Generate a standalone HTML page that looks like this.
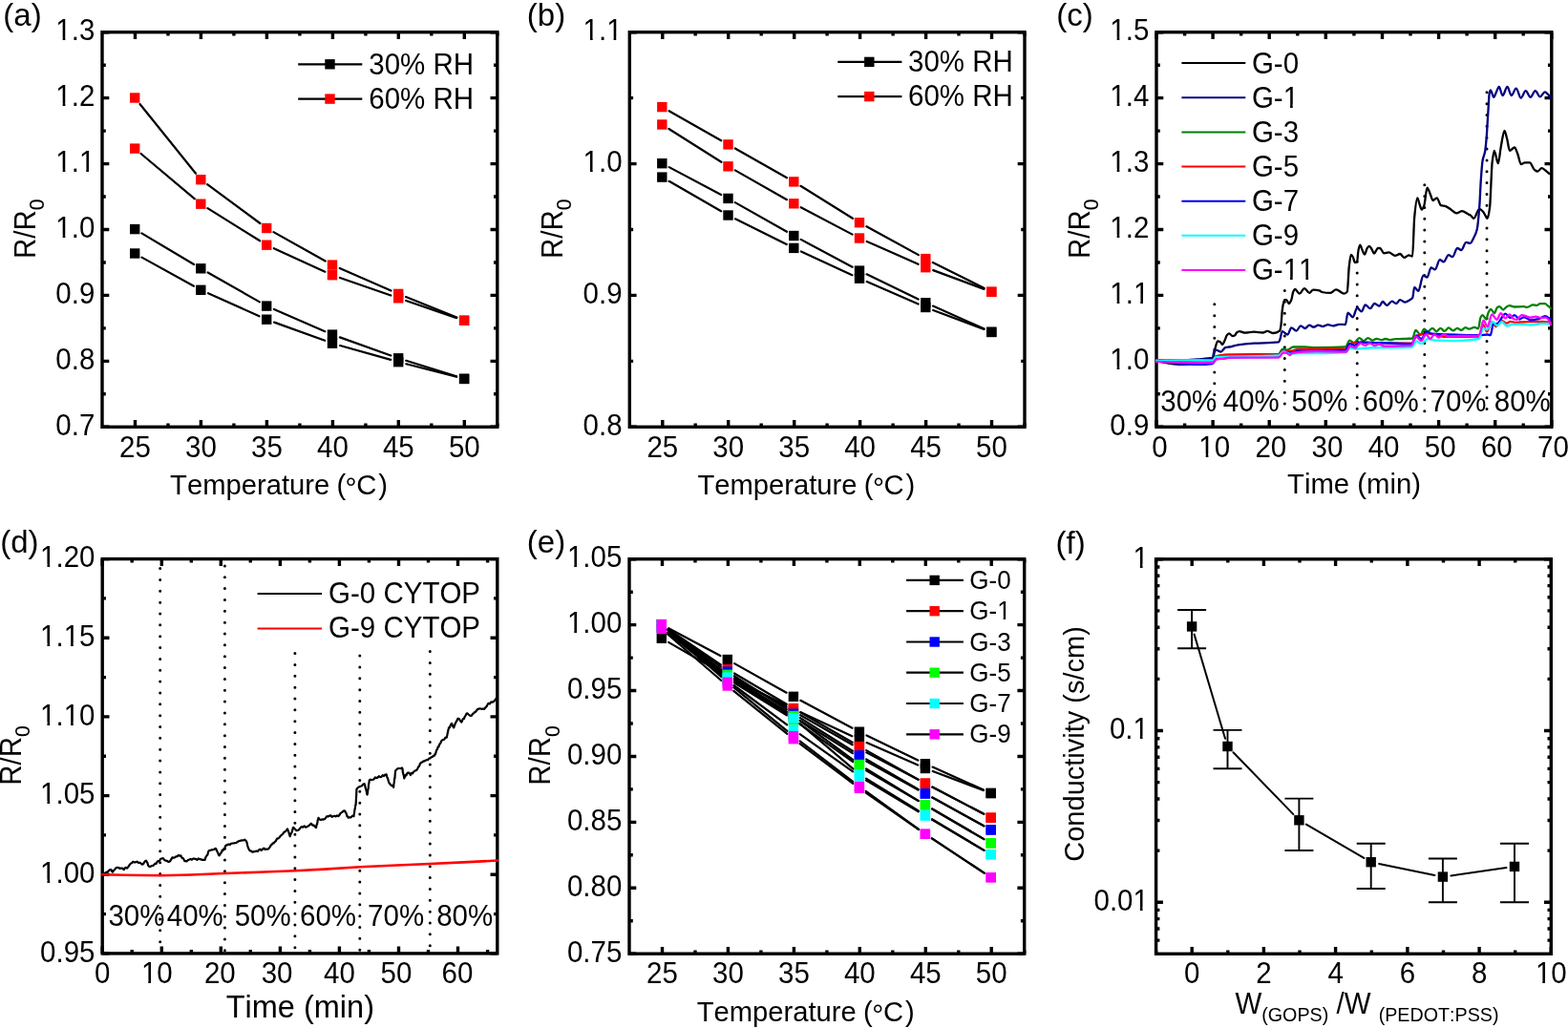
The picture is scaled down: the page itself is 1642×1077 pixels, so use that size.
<!DOCTYPE html><html><head><meta charset="utf-8"><style>html,body{margin:0;padding:0;background:#fff;overflow:hidden}svg{display:block}</style></head><body><svg width="1642" height="1077" viewBox="0 0 1642 1077" font-family="'Liberation Sans', Arial, sans-serif" font-size="30.7" fill="#000" style="font-kerning:none">
<rect width="1642" height="1077" fill="#fff"/>
<text x="3.3" y="26.6" font-size="33">(a)</text>
<text x="551.8" y="26.6" font-size="33">(b)</text>
<text x="1106.3" y="26.6" font-size="33">(c)</text>
<text x="0.2" y="578.5" font-size="33">(d)</text>
<text x="551.8" y="578.5" font-size="33">(e)</text>
<text x="1105.6" y="579.6" font-size="33">(f)</text>
<path d="M141.5 447.3v-7.3M141.5 33.7v7.3M210.4 447.3v-7.3M210.4 33.7v7.3M279.4 447.3v-7.3M279.4 33.7v7.3M348.4 447.3v-7.3M348.4 33.7v7.3M417.3 447.3v-7.3M417.3 33.7v7.3M486.3 447.3v-7.3M486.3 33.7v7.3M176 447.3v-3.8M176 33.7v3.8M244.9 447.3v-3.8M244.9 33.7v3.8M313.9 447.3v-3.8M313.9 33.7v3.8M382.9 447.3v-3.8M382.9 33.7v3.8M451.8 447.3v-3.8M451.8 33.7v3.8M520.8 447.3v-3.8M520.8 33.7v3.8M107 447.3h7.3M520.8 447.3h-7.3M107 378.4h7.3M520.8 378.4h-7.3M107 309.4h7.3M520.8 309.4h-7.3M107 240.5h7.3M520.8 240.5h-7.3M107 171.6h7.3M520.8 171.6h-7.3M107 102.6h7.3M520.8 102.6h-7.3M107 33.7h7.3M520.8 33.7h-7.3M107 412.8h3.8M520.8 412.8h-3.8M107 343.9h3.8M520.8 343.9h-3.8M107 275h3.8M520.8 275h-3.8M107 206h3.8M520.8 206h-3.8M107 137.1h3.8M520.8 137.1h-3.8M107 68.2h3.8M520.8 68.2h-3.8" stroke="#000" stroke-width="3.4" fill="none"/>
<rect x="107" y="33.7" width="413.8" height="413.6" fill="none" stroke="#000" stroke-width="3.4"/>
<text transform="translate(141.5 478.6) scale(0.9609 1)" text-anchor="middle">25</text>
<text transform="translate(210.4 478.6) scale(0.9609 1)" text-anchor="middle">30</text>
<text transform="translate(279.4 478.6) scale(0.9609 1)" text-anchor="middle">35</text>
<text transform="translate(348.4 478.6) scale(0.9609 1)" text-anchor="middle">40</text>
<text transform="translate(417.3 478.6) scale(0.9609 1)" text-anchor="middle">45</text>
<text transform="translate(486.3 478.6) scale(0.9609 1)" text-anchor="middle">50</text>
<text transform="translate(99.3 456) scale(0.9609 1)" text-anchor="end">0.7</text>
<text transform="translate(99.3 387.1) scale(0.9609 1)" text-anchor="end">0.8</text>
<text transform="translate(99.3 318.1) scale(0.9609 1)" text-anchor="end">0.9</text>
<text transform="translate(99.3 249.2) scale(0.9609 1)" text-anchor="end">1.0</text>
<text transform="translate(99.3 180.3) scale(0.9609 1)" text-anchor="end">1.1</text>
<text transform="translate(99.3 111.3) scale(0.9609 1)" text-anchor="end">1.2</text>
<text transform="translate(99.3 42.4) scale(0.9609 1)" text-anchor="end">1.3</text>
<path d="M148.4 244.4L203.1 277M217.6 285.5L271.9 316.4M286.9 324L340.3 347.2M355.9 353.4L409.3 372.5M425.2 377.8L478.1 394.4" stroke="#000" stroke-width="2.2" fill="none" stroke-linecap="round"/><path d="M148.5 269.6L203 299.7M218 307.2L271.5 331.3M287.1 337.6L340.1 356.8M356.1 362L409.1 376.9M425.3 381.3L478 394.8" stroke="#000" stroke-width="2.2" fill="none" stroke-linecap="round"/><path d="M146.5 109L205 181.7M217.1 193.2L272.4 234M286.5 243.1L340.7 273.5M355.7 281L409.5 304.5M425 311.1L478.3 332.6" stroke="#000" stroke-width="2.2" fill="none" stroke-linecap="round"/><path d="M147.6 161L203.9 208.3M217.4 218.1L272.1 252.3M286.8 260.2L340.4 284.7M355.9 291L409.3 309.5M425.2 315L478.1 333.1" stroke="#000" stroke-width="2.2" fill="none" stroke-linecap="round"/>
<rect x="136" y="234.9" width="10.4" height="10.4" fill="#000"/><rect x="205.1" y="276.1" width="10.4" height="10.4" fill="#000"/><rect x="274" y="315.4" width="10.4" height="10.4" fill="#000"/><rect x="342.8" y="345.4" width="10.4" height="10.4" fill="#000"/><rect x="412" y="370.1" width="10.4" height="10.4" fill="#000"/><rect x="480.9" y="391.7" width="10.4" height="10.4" fill="#000"/><rect x="136" y="260.3" width="10.4" height="10.4" fill="#000"/><rect x="205.1" y="298.6" width="10.4" height="10.4" fill="#000"/><rect x="274" y="329.5" width="10.4" height="10.4" fill="#000"/><rect x="342.8" y="354.5" width="10.4" height="10.4" fill="#000"/><rect x="412" y="374" width="10.4" height="10.4" fill="#000"/><rect x="480.9" y="391.7" width="10.4" height="10.4" fill="#000"/><rect x="136" y="97.3" width="10.4" height="10.4" fill="#f00"/><rect x="205.1" y="183" width="10.4" height="10.4" fill="#f00"/><rect x="274" y="233.8" width="10.4" height="10.4" fill="#f00"/><rect x="342.8" y="272.4" width="10.4" height="10.4" fill="#f00"/><rect x="412" y="302.7" width="10.4" height="10.4" fill="#f00"/><rect x="480.9" y="330.6" width="10.4" height="10.4" fill="#f00"/><rect x="136" y="150.4" width="10.4" height="10.4" fill="#f00"/><rect x="205.1" y="208.5" width="10.4" height="10.4" fill="#f00"/><rect x="274" y="251.5" width="10.4" height="10.4" fill="#f00"/><rect x="342.8" y="283" width="10.4" height="10.4" fill="#f00"/><rect x="412" y="307.1" width="10.4" height="10.4" fill="#f00"/><rect x="480.9" y="330.6" width="10.4" height="10.4" fill="#f00"/>
<path d="M312.2 67.3H379.3" stroke="#000" stroke-width="2.2"/>
<rect x="340.3" y="62.1" width="10.4" height="10.4" fill="#000"/>
<text transform="translate(386.3 77.7) scale(0.9609 1)">30% RH</text>
<path d="M312.2 103.6H379.3" stroke="#000" stroke-width="2.2"/>
<rect x="340.3" y="98.4" width="10.4" height="10.4" fill="#f00"/>
<text transform="translate(386.3 114) scale(0.9609 1)">60% RH</text>
<text x="178.1" y="517.8" font-size="29.2">Temperature <tspan x="352.5">(</tspan><tspan x="361.6" y="520.6" font-size="30">&#176;</tspan><tspan x="373.3" y="517.8">C</tspan><tspan x="396.3">)</tspan></text>
<text transform="translate(36.8 271) rotate(-90) scale(0.9609 1)">R/R<tspan font-size="22.1" dy="9.3">0</tspan></text>
<path d="M693.8 447.3v-7.3M693.8 33.7v7.3M762.7 447.3v-7.3M762.7 33.7v7.3M831.7 447.3v-7.3M831.7 33.7v7.3M900.6 447.3v-7.3M900.6 33.7v7.3M969.6 447.3v-7.3M969.6 33.7v7.3M1038.5 447.3v-7.3M1038.5 33.7v7.3M728.2 447.3v-3.8M728.2 33.7v3.8M797.2 447.3v-3.8M797.2 33.7v3.8M866.1 447.3v-3.8M866.1 33.7v3.8M935.1 447.3v-3.8M935.1 33.7v3.8M1004 447.3v-3.8M1004 33.7v3.8M1073 447.3v-3.8M1073 33.7v3.8M659.3 447.3h7.3M1073 447.3h-7.3M659.3 309.4h7.3M1073 309.4h-7.3M659.3 171.6h7.3M1073 171.6h-7.3M659.3 33.7h7.3M1073 33.7h-7.3M659.3 378.4h3.8M1073 378.4h-3.8M659.3 240.5h3.8M1073 240.5h-3.8M659.3 102.6h3.8M1073 102.6h-3.8" stroke="#000" stroke-width="3.4" fill="none"/>
<rect x="659.3" y="33.7" width="413.7" height="413.6" fill="none" stroke="#000" stroke-width="3.4"/>
<text transform="translate(693.8 478.6) scale(0.9609 1)" text-anchor="middle">25</text>
<text transform="translate(762.7 478.6) scale(0.9609 1)" text-anchor="middle">30</text>
<text transform="translate(831.7 478.6) scale(0.9609 1)" text-anchor="middle">35</text>
<text transform="translate(900.6 478.6) scale(0.9609 1)" text-anchor="middle">40</text>
<text transform="translate(969.6 478.6) scale(0.9609 1)" text-anchor="middle">45</text>
<text transform="translate(1038.5 478.6) scale(0.9609 1)" text-anchor="middle">50</text>
<text transform="translate(651.6 456) scale(0.9609 1)" text-anchor="end">0.8</text>
<text transform="translate(651.6 318.1) scale(0.9609 1)" text-anchor="end">0.9</text>
<text transform="translate(651.6 180.3) scale(0.9609 1)" text-anchor="end">1.0</text>
<text transform="translate(651.6 42.4) scale(0.9609 1)" text-anchor="end">1.1</text>
<path d="M700.7 175.1L755.1 204M769.8 212.1L824 242.8M838.7 250.9L892.6 279.7M907.6 287.3L961.7 313.5M977 320.6L1030.6 344.5" stroke="#000" stroke-width="2.2" fill="none" stroke-linecap="round"/><path d="M700.6 189.8L755.2 221.3M770 229.3L823.8 256.1M838.9 263.4L892.4 288.2M907.7 295.1L961.6 318.6M977.2 325L1030.4 344.9" stroke="#000" stroke-width="2.2" fill="none" stroke-linecap="round"/><path d="M700.6 116.2L755.2 147.3M769.8 155.5L824 186.3M838.4 194.8L892.9 228.8M907.4 237.2L961.9 267.1M976.8 274.9L1030.8 302" stroke="#000" stroke-width="2.2" fill="none" stroke-linecap="round"/><path d="M700.4 135L755.4 169.8M769.8 178.4L824 209.2M838.7 217.2L892.6 245.6M907.7 252.9L961.6 276.8M977.2 283.1L1030.4 302.9" stroke="#000" stroke-width="2.2" fill="none" stroke-linecap="round"/>
<rect x="688.1" y="166" width="10.4" height="10.4" fill="#000"/><rect x="757.3" y="202.7" width="10.4" height="10.4" fill="#000"/><rect x="826.1" y="241.8" width="10.4" height="10.4" fill="#000"/><rect x="894.8" y="278.4" width="10.4" height="10.4" fill="#000"/><rect x="964.1" y="312" width="10.4" height="10.4" fill="#000"/><rect x="1033.1" y="342.7" width="10.4" height="10.4" fill="#000"/><rect x="688.1" y="180.4" width="10.4" height="10.4" fill="#000"/><rect x="757.3" y="220.3" width="10.4" height="10.4" fill="#000"/><rect x="826.1" y="254.7" width="10.4" height="10.4" fill="#000"/><rect x="894.8" y="286.5" width="10.4" height="10.4" fill="#000"/><rect x="964.1" y="316.8" width="10.4" height="10.4" fill="#000"/><rect x="1033.1" y="342.7" width="10.4" height="10.4" fill="#000"/><rect x="688.1" y="106.9" width="10.4" height="10.4" fill="#f00"/><rect x="757.3" y="146.2" width="10.4" height="10.4" fill="#f00"/><rect x="826.1" y="185.2" width="10.4" height="10.4" fill="#f00"/><rect x="894.8" y="228" width="10.4" height="10.4" fill="#f00"/><rect x="964.1" y="265.9" width="10.4" height="10.4" fill="#f00"/><rect x="1033.1" y="300.6" width="10.4" height="10.4" fill="#f00"/><rect x="688.1" y="125.3" width="10.4" height="10.4" fill="#f00"/><rect x="757.3" y="169.1" width="10.4" height="10.4" fill="#f00"/><rect x="826.1" y="208.1" width="10.4" height="10.4" fill="#f00"/><rect x="894.8" y="244.3" width="10.4" height="10.4" fill="#f00"/><rect x="964.1" y="275" width="10.4" height="10.4" fill="#f00"/><rect x="1033.1" y="300.6" width="10.4" height="10.4" fill="#f00"/>
<path d="M877.3 64.9H944.4" stroke="#000" stroke-width="2.2"/>
<rect x="905.1" y="59.7" width="10.4" height="10.4" fill="#000"/>
<text transform="translate(951 75.2) scale(0.9609 1)">30% RH</text>
<path d="M877.3 101.1H944.4" stroke="#000" stroke-width="2.2"/>
<rect x="905.1" y="95.9" width="10.4" height="10.4" fill="#f00"/>
<text transform="translate(951 111.4) scale(0.9609 1)">60% RH</text>
<text x="730.4" y="517.8" font-size="29.2">Temperature <tspan x="904.8">(</tspan><tspan x="913.9" y="520.6" font-size="30">&#176;</tspan><tspan x="925.6" y="517.8">C</tspan><tspan x="948.6">)</tspan></text>
<text transform="translate(588.8 271) rotate(-90) scale(0.9609 1)">R/R<tspan font-size="22.1" dy="9.3">0</tspan></text>
<path d="M1211 447.3v-7.3M1211 33.7v7.3M1270.1 447.3v-7.3M1270.1 33.7v7.3M1329.2 447.3v-7.3M1329.2 33.7v7.3M1388.3 447.3v-7.3M1388.3 33.7v7.3M1447.5 447.3v-7.3M1447.5 33.7v7.3M1506.6 447.3v-7.3M1506.6 33.7v7.3M1565.7 447.3v-7.3M1565.7 33.7v7.3M1624.8 447.3v-7.3M1624.8 33.7v7.3M1240.6 447.3v-3.8M1240.6 33.7v3.8M1299.7 447.3v-3.8M1299.7 33.7v3.8M1358.8 447.3v-3.8M1358.8 33.7v3.8M1417.9 447.3v-3.8M1417.9 33.7v3.8M1477 447.3v-3.8M1477 33.7v3.8M1536.1 447.3v-3.8M1536.1 33.7v3.8M1595.2 447.3v-3.8M1595.2 33.7v3.8M1211 447.3h7.3M1624.8 447.3h-7.3M1211 378.4h7.3M1624.8 378.4h-7.3M1211 309.4h7.3M1624.8 309.4h-7.3M1211 240.5h7.3M1624.8 240.5h-7.3M1211 171.6h7.3M1624.8 171.6h-7.3M1211 102.6h7.3M1624.8 102.6h-7.3M1211 33.7h7.3M1624.8 33.7h-7.3M1211 412.8h3.8M1624.8 412.8h-3.8M1211 343.9h3.8M1624.8 343.9h-3.8M1211 275h3.8M1624.8 275h-3.8M1211 206h3.8M1624.8 206h-3.8M1211 137.1h3.8M1624.8 137.1h-3.8M1211 68.2h3.8M1624.8 68.2h-3.8" stroke="#000" stroke-width="3.4" fill="none"/>
<rect x="1211" y="33.7" width="413.8" height="413.6" fill="none" stroke="#000" stroke-width="3.4"/>
<text transform="translate(1214.5 478.6) scale(0.9609 1)" text-anchor="middle">0</text>
<text transform="translate(1271.7 478.6) scale(0.9609 1)" text-anchor="middle">10</text>
<text transform="translate(1330.8 478.6) scale(0.9609 1)" text-anchor="middle">20</text>
<text transform="translate(1389.9 478.6) scale(0.9609 1)" text-anchor="middle">30</text>
<text transform="translate(1449.1 478.6) scale(0.9609 1)" text-anchor="middle">40</text>
<text transform="translate(1508.2 478.6) scale(0.9609 1)" text-anchor="middle">50</text>
<text transform="translate(1567.3 478.6) scale(0.9609 1)" text-anchor="middle">60</text>
<text transform="translate(1626.4 478.6) scale(0.9609 1)" text-anchor="middle">70</text>
<text transform="translate(1203.3 456) scale(0.9609 1)" text-anchor="end">0.9</text>
<text transform="translate(1203.3 387.1) scale(0.9609 1)" text-anchor="end">1.0</text>
<text transform="translate(1203.3 318.1) scale(0.9609 1)" text-anchor="end">1.1</text>
<text transform="translate(1203.3 249.2) scale(0.9609 1)" text-anchor="end">1.2</text>
<text transform="translate(1203.3 180.3) scale(0.9609 1)" text-anchor="end">1.3</text>
<text transform="translate(1203.3 111.3) scale(0.9609 1)" text-anchor="end">1.4</text>
<text transform="translate(1203.3 42.4) scale(0.9609 1)" text-anchor="end">1.5</text>
<text x="1348.05" y="516.5" font-size="29.3">Time (min)</text>
<text transform="translate(1141 271) rotate(-90) scale(0.9609 1)">R/R<tspan font-size="22.1" dy="9.3">0</tspan></text>
<path d="M1271.8 318.8V434" stroke="#000" stroke-width="3.0" stroke-linecap="round" stroke-dasharray="0 11.85" fill="none"/>
<path d="M1345.3 304.5V434" stroke="#000" stroke-width="3.0" stroke-linecap="round" stroke-dasharray="0 11.85" fill="none"/>
<path d="M1421.2 274.2V434" stroke="#000" stroke-width="3.0" stroke-linecap="round" stroke-dasharray="0 11.85" fill="none"/>
<path d="M1491.8 193.7V434" stroke="#000" stroke-width="3.0" stroke-linecap="round" stroke-dasharray="0 11.85" fill="none"/>
<path d="M1557 96.8V434" stroke="#000" stroke-width="3.0" stroke-linecap="round" stroke-dasharray="0 11.85" fill="none"/>
<path d="M1211 378C1215.3 378.9 1219.5 380 1223.8 380.6C1228.1 381.2 1232.3 381.9 1236.6 381.9C1240.4 381.9 1244.2 381.6 1248 381.4C1252 381.1 1256 380.5 1260 380C1263.3 379.6 1266.5 379.7 1269.8 378.5C1270.4 378.3 1270.9 372.8 1271.5 370C1271.8 368.7 1272 367.2 1272.3 366.1C1273.2 362.4 1274.2 357.3 1275.1 357.3C1276 357.3 1276.9 357.7 1277.8 358.2C1278.6 358.6 1279.4 361 1280.2 361C1281 361 1281.7 358.4 1282.5 356.8C1283.3 355.2 1284 352.2 1284.8 351.3C1285.6 350.4 1286.3 349.4 1287.1 349.4C1288.3 349.4 1289.6 352.2 1290.8 352.2C1291.6 352.2 1292.4 351.8 1293.2 351.3C1293.8 350.9 1294.4 349 1295 348.5C1295.9 347.8 1296.9 347.1 1297.8 347.1C1299.8 347.1 1301.8 348.7 1303.8 348.7C1306.9 348.7 1310 347.7 1313.1 347.7C1316.2 347.7 1319.3 348.5 1322.4 348.5C1323.9 348.5 1325.5 346.8 1327 346.8C1329.2 346.8 1331.3 349 1333.5 349C1335.7 349 1337.8 348.4 1340 346.6C1340.4 346.2 1340.9 344.3 1341.3 342C1341.8 339.3 1342.3 329 1342.8 325C1343.2 322.1 1343.5 319.5 1343.9 318C1344.3 316.2 1344.8 314.1 1345.2 314.1C1345.8 314.1 1346.5 314.1 1347.1 314.1C1348 314.1 1348.8 318 1349.7 318C1350.6 318 1351.4 316.1 1352.3 314.1C1353 312.6 1353.6 307 1354.3 305.6C1354.9 304.3 1355.6 303 1356.2 303C1357.7 303 1359.3 307.6 1360.8 307.6C1362.5 307.6 1364.3 302.1 1366 302.1C1367.7 302.1 1369.5 306.9 1371.2 306.9C1372.5 306.9 1373.8 303.7 1375.1 303.7C1377.3 303.7 1379.4 303.9 1381.6 304.3C1382.5 304.5 1383.3 305.8 1384.2 306C1387.2 306.6 1390.3 306.9 1393.3 306.9C1395.2 306.9 1397.2 303.4 1399.1 303.4C1401.9 303.4 1404.8 307.6 1407.6 307.6C1408.7 307.6 1409.7 307 1410.8 305.6C1411.5 304.7 1412.1 284.5 1412.8 279C1413.5 273.5 1414.1 267 1414.8 267C1415.4 267 1416.1 268 1416.7 269C1417.4 270.1 1418.2 275.1 1418.9 275.1C1419.7 275.1 1420.4 274.8 1421.2 274C1421.6 273.6 1421.9 265.4 1422.3 263.4C1422.9 260 1423.6 256.7 1424.2 256.7C1425 256.7 1425.9 260.6 1426.7 262.3C1427.5 263.9 1428.2 266.7 1429 266.7C1429.9 266.7 1430.8 261.2 1431.7 260C1432.5 259 1433.2 257.8 1434 257.8C1434.8 257.8 1435.7 259.9 1436.5 261.2C1437.3 262.5 1438.2 265.6 1439 265.6C1440.3 265.6 1441.6 260.2 1442.9 260C1443.6 259.9 1444.3 259.8 1445 259.8C1446.4 259.8 1447.8 265.3 1449.2 265.3C1450.9 265.3 1452.7 264.4 1454.4 264.4C1456.6 264.4 1458.7 267.9 1460.9 267.9C1462.6 267.9 1464.4 266 1466.1 266C1467.6 266 1469.1 269.9 1470.6 269.9C1472.1 269.9 1473.7 267.3 1475.2 267.3C1476.5 267.3 1477.8 268.6 1479.1 268.6C1479.8 268.6 1480.5 234.3 1481.2 227.3C1482.2 216.9 1483.3 207.3 1484.3 207.3C1485 207.3 1485.6 211.3 1486.3 213.1C1487.1 215.4 1488 219.6 1488.8 219.6C1489.7 219.6 1490.5 217.4 1491.4 215.1C1492.4 212.4 1493.5 196.7 1494.5 196.7C1495.5 196.7 1496.6 200.7 1497.6 202.9C1498.6 205.1 1499.6 210 1500.6 210C1502 210 1503.3 207.3 1504.7 207.3C1506.1 207.3 1507.4 214.6 1508.8 215.1C1510.5 215.7 1512.2 215.6 1513.9 216.1C1515.6 216.6 1517.3 218.1 1519 219.2C1521 220.5 1523.1 223.3 1525.1 223.3C1527.1 223.3 1529.2 221.2 1531.2 221.2C1533.2 221.2 1535.3 223.3 1537.3 224.3C1538.2 224.7 1539.1 225 1540 225.6C1541.1 226.3 1542.2 228.9 1543.3 228.9C1545.3 228.9 1547.2 218.9 1549.2 218.9C1550.6 218.9 1552 220.7 1553.4 222.2C1554.8 223.7 1556.2 228.9 1557.6 228.9C1558.4 228.9 1559.3 223.4 1560.1 217.2C1560.9 211 1561.8 177.6 1562.6 170.4C1563.3 164 1564.1 157.8 1564.8 157.8C1566.1 157.8 1567.5 171.2 1568.8 171.2C1569.8 171.2 1570.8 158.7 1571.8 153.6C1573 147.3 1574.3 136.9 1575.5 136.9C1576.4 136.9 1577.2 142.1 1578.1 145.3C1579.1 148.9 1580 157.8 1581 157.8C1582.7 157.8 1584.3 154.5 1586 154.5C1587.1 154.5 1588.2 158.5 1589.3 161.2C1590.4 164 1591.6 172 1592.7 172C1594.1 172 1595.5 170.4 1596.9 170.4C1598.6 170.4 1600.2 170.4 1601.9 170.4C1603.6 170.4 1605.2 176.7 1606.9 177.9C1608 178.7 1609.2 179.6 1610.3 179.6C1611.7 179.6 1613 176.2 1614.4 176.2C1615.8 176.2 1617.2 177.7 1618.6 178.7C1620 179.7 1621.4 181.2 1622.8 182.1C1623.4 182.5 1623.9 182.7 1624.5 183" stroke="#000" stroke-width="2.3" fill="none" stroke-linejoin="round" stroke-linecap="round"/>
<path d="M1211 378.4C1219.5 378.1 1228.1 378 1236.6 377.6C1242.3 377.3 1247.9 376.7 1253.6 376.3C1259 375.9 1264.4 376.1 1269.8 375C1270.4 374.9 1270.9 368.2 1271.5 367.8C1272.4 367.2 1273.2 366.9 1274.1 366.9C1275.5 366.9 1277 368.6 1278.4 368.6C1280.1 368.6 1281.8 364.3 1283.5 364C1284.9 363.7 1286.3 363.7 1287.7 363.5C1290.6 363.1 1293.4 361.8 1296.3 361.4C1302 360.6 1307.6 360.1 1313.3 359.7C1321.8 359.1 1330.4 359.6 1338.9 358.4C1339.5 358.3 1340 356.5 1340.6 355C1341.3 353.3 1341.9 347.2 1342.6 347.2C1344.5 347.2 1346.5 350.5 1348.4 350.5C1349.7 350.5 1351 343.3 1352.3 343.3C1354 343.3 1355.8 346.6 1357.5 346.6C1359 346.6 1360.6 341.4 1362.1 341.4C1363.6 341.4 1365.1 344 1366.6 344C1368.1 344 1369.7 340.7 1371.2 340.7C1372.7 340.7 1374.2 342.7 1375.7 342.7C1377.2 342.7 1378.8 340.7 1380.3 340.7C1382 340.7 1383.8 342 1385.5 342C1387.2 342 1389 340.1 1390.7 340.1C1392.4 340.1 1394.2 341.4 1395.9 341.4C1398.1 341.4 1400.2 339.8 1402.4 339.8C1404.6 339.8 1406.7 340.1 1408.9 340.1C1409.8 340.1 1410.6 327.7 1411.5 327.7C1413.2 327.7 1415 332.3 1416.7 332.3C1418.2 332.3 1419.7 322.5 1421.2 322.5C1422.7 322.5 1424.3 326.4 1425.8 326.4C1427.1 326.4 1428.4 319.3 1429.7 319.3C1431.4 319.3 1433.2 323.2 1434.9 323.2C1436.4 323.2 1437.9 318 1439.4 318C1441.1 318 1442.9 320.6 1444.6 320.6C1445.7 320.6 1446.8 316 1447.9 316C1449.4 316 1450.9 319.9 1452.4 319.9C1454.1 319.9 1455.9 315.7 1457.6 315.7C1459.1 315.7 1460.7 318 1462.2 318C1463.5 318 1464.8 314.1 1466.1 314.1C1467.8 314.1 1469.6 316.7 1471.3 316.7C1473 316.7 1474.8 315.2 1476.5 314.1C1477.4 313.5 1478.3 313.3 1479.2 312C1479.9 311.1 1480.5 300.8 1481.2 300.8C1482.6 300.8 1483.9 304.9 1485.3 304.9C1487 304.9 1488.7 288.6 1490.4 288.6C1491.8 288.6 1493.1 290.6 1494.5 290.6C1495.9 290.6 1497.2 280.4 1498.6 280.4C1500 280.4 1501.3 282.4 1502.7 282.4C1504.4 282.4 1506.1 272.2 1507.8 272.2C1509.1 272.2 1510.5 274.3 1511.8 274.3C1513.5 274.3 1515.2 267.1 1516.9 267.1C1518.3 267.1 1519.6 269.2 1521 269.2C1522.7 269.2 1524.4 260 1526.1 260C1527.5 260 1528.8 262 1530.2 262C1531.9 262 1533.6 253.9 1535.3 253.9C1536.7 253.9 1538 254.9 1539.4 254.9C1540.7 254.9 1542 251.5 1543.3 249C1544.4 246.9 1545.6 245.2 1546.7 240.6C1547.5 237.2 1548.4 227.6 1549.2 217.2C1549.8 210.1 1550.3 195 1550.9 187.1C1551.4 179.7 1552 171.9 1552.5 168.7C1553.4 163.5 1554.2 163.6 1555.1 158.7C1555.6 155.7 1556.2 149.9 1556.7 143.6C1557.3 136.9 1557.8 125.4 1558.4 116.8C1558.8 110.2 1559.3 99.6 1559.7 97.6C1560.1 95.8 1560.5 94.3 1560.9 94.3C1562 94.3 1563.2 101.8 1564.3 101.8C1565.1 101.8 1566 98.5 1566.8 96.8C1567.8 94.8 1568.8 90.9 1569.8 90.9C1571 90.9 1572.3 100.1 1573.5 100.1C1575.2 100.1 1576.8 90.9 1578.5 90.9C1579.9 90.9 1581.3 100.1 1582.7 100.1C1584.4 100.1 1586 92.6 1587.7 92.6C1589.4 92.6 1591 102.6 1592.7 102.6C1594.4 102.6 1596 95.1 1597.7 95.1C1599.4 95.1 1601 101.8 1602.7 101.8C1604.4 101.8 1606 95.1 1607.7 95.1C1609.4 95.1 1611.1 101.4 1612.8 101.4C1614.5 101.4 1616.1 96.4 1617.8 96.4C1619.5 96.4 1621.1 99.1 1622.8 100.9C1623.4 101.5 1623.9 102.3 1624.5 103" stroke="#000080" stroke-width="2.3" fill="none" stroke-linejoin="round" stroke-linecap="round"/>
<path d="M1211 378C1230.6 377.7 1250.2 377.9 1269.8 377.2C1270.9 377.2 1272.1 373.7 1273.2 373.3C1276.6 372.2 1280.1 371.7 1283.5 371.6C1302 371 1320.4 371.5 1338.9 370.8C1340.3 370.7 1341.8 365.7 1343.2 365.7C1344.7 365.7 1346.3 366.7 1347.8 366.7C1350 366.7 1352.1 363.5 1354.3 363.5C1358.2 363.5 1362.1 363.5 1366 363.5C1370.3 363.5 1374.7 364.1 1379 364.1C1389 364.1 1398.9 364 1408.9 363.5C1410.4 363.4 1411.9 356.7 1413.4 356.7C1414.8 356.7 1416.3 359.2 1417.7 359.2C1419.7 359.2 1421.6 354.1 1423.6 354.1C1425 354.1 1426.5 357.1 1427.9 357.1C1429.5 357.1 1431 354.1 1432.6 354.1C1434.2 354.1 1435.7 356.7 1437.3 356.7C1438.7 356.7 1440.1 354.8 1441.5 354.8C1443.2 354.8 1445 356.2 1446.7 356.2C1448.1 356.2 1449.5 355 1450.9 355C1452.6 355 1454.3 356.2 1456 356.2C1457.7 356.2 1459.5 355.1 1461.2 355.1C1464 355 1466.9 355.1 1469.7 355C1472.8 354.9 1476 354.9 1479.1 354.5C1480.2 354.4 1481.4 346 1482.5 346C1484.2 346 1485.9 350.7 1487.6 350.7C1488.9 350.7 1490.1 344.7 1491.4 344.7C1492.7 344.7 1494 347.3 1495.3 347.3C1496.9 347.3 1498.4 343.9 1500 343.9C1501.4 343.9 1502.8 347.3 1504.2 347.3C1505.6 347.3 1507.1 343.9 1508.5 343.9C1509.9 343.9 1511.3 346.9 1512.7 346.9C1514.1 346.9 1515.6 343.4 1517 343.4C1518.6 343.4 1520.1 346.4 1521.7 346.4C1523.1 346.4 1524.6 343.9 1526 343.9C1527.4 343.9 1528.8 346 1530.2 346C1531.6 346 1533.1 343.2 1534.5 343.2C1535.9 343.2 1537.3 344.7 1538.7 344.7C1540.4 344.7 1542.2 342.8 1543.9 342.8C1545.3 342.8 1546.7 344.3 1548.1 344.3C1548.9 344.3 1549.6 334.2 1550.4 332.7C1551.1 331.3 1551.9 330.1 1552.6 330.1C1553.8 330.1 1555.1 334.5 1556.3 334.5C1557.1 334.5 1557.8 329 1558.6 327.5C1559.5 325.8 1560.3 323.8 1561.2 323.8C1562.4 323.8 1563.7 328.2 1564.9 328.2C1565.9 328.2 1566.8 323 1567.8 322.3C1568.6 321.7 1569.3 321.2 1570.1 321.2C1571.5 321.2 1572.8 324.5 1574.2 324.5C1575.2 324.5 1576.1 322.5 1577.1 321.9C1578.3 321.1 1579.6 320.2 1580.8 320.2C1582.5 320.2 1584.3 321.5 1586 321.5C1589.2 321.5 1592.5 321.2 1595.7 321.2C1596.9 321.2 1598.2 321.9 1599.4 321.9C1601.4 321.9 1603.3 319.3 1605.3 319.3C1606.6 319.3 1607.8 320 1609.1 320C1610.3 320 1611.6 318.2 1612.8 318.2C1614.5 318.2 1616.3 318.2 1618 318.2C1619 318.2 1619.9 319.6 1620.9 320.4C1621.9 321.2 1622.9 322.1 1623.9 323" stroke="#008000" stroke-width="2.3" fill="none" stroke-linejoin="round" stroke-linecap="round"/>
<path d="M1211 377.2C1230.6 377.2 1250.2 377.2 1269.8 377.2C1270.9 377.2 1272.1 374.2 1273.2 373.8C1276.6 372.6 1280.1 372.1 1283.5 372C1302 371.7 1320.4 372 1338.9 371.6C1340.6 371.6 1342.3 366.9 1344 366.9C1346.3 366.9 1348.5 367.8 1350.8 367.8C1353.9 367.8 1356.9 366 1360 366C1376.3 366 1392.6 366 1408.9 366C1410.4 366 1411.9 360.2 1413.4 360C1417.1 359.4 1420.8 359.2 1424.5 359.2C1442.4 359.2 1460.3 359.6 1478.2 359.6C1479.9 359.6 1481.6 352.8 1483.3 352C1487 350.4 1490.7 349.4 1494.4 349.4C1500.6 349.4 1506.8 352.8 1513 352.8C1525 352.8 1536.9 352.8 1548.9 352.5C1550.3 352.5 1551.6 340.1 1553 340.1C1554.4 340.1 1555.7 347.5 1557.1 347.5C1558.8 347.5 1560.6 337.1 1562.3 337.1C1563.8 337.1 1565.2 342 1566.7 342C1568.4 342 1570.2 335.6 1571.9 335.6C1573.9 335.6 1575.9 338.6 1577.9 338.6C1579.1 338.6 1580.4 336.8 1581.6 336.8C1583.6 336.8 1585.5 337.9 1587.5 337.9C1591.5 337.9 1595.4 337.2 1599.4 337.1C1604.4 336.9 1609.3 336.8 1614.3 336.8C1617.5 336.8 1620.7 337.5 1623.9 337.9" stroke="#f00" stroke-width="2.3" fill="none" stroke-linejoin="round" stroke-linecap="round"/>
<path d="M1211 378.4C1219.5 379.3 1228.1 380.4 1236.6 381C1242.3 381.4 1247.9 381.9 1253.6 381.9C1259 381.9 1264.4 381.7 1269.8 381C1270.9 380.8 1272.1 376.9 1273.2 376.5C1276.6 375.2 1280.1 374.6 1283.5 374.5C1302 373.7 1320.4 374.4 1338.9 373.5C1340.6 373.4 1342.3 368 1344 368C1346.3 368 1348.5 369.5 1350.8 369.5C1353.9 369.5 1356.9 368.1 1360 368C1376.3 367.3 1392.6 367.9 1408.9 367C1410.4 366.9 1411.9 360.1 1413.4 360.1C1415.1 360.1 1416.8 361.8 1418.5 361.8C1420.5 361.8 1422.5 358.4 1424.5 358.4C1428.2 358.4 1431.9 358.7 1435.6 358.8C1449.8 359.3 1464 360.1 1478.2 360.1C1479.9 360.1 1481.6 351.5 1483.3 351.5C1485 351.5 1486.7 355 1488.4 355C1490.4 355 1492.4 347.3 1494.4 347.3C1495.8 347.3 1497.3 349.2 1498.7 349.4C1500.4 349.6 1502.1 349.7 1503.8 349.8C1519.1 350.6 1534.4 351.2 1549.7 351.2C1552.4 351.2 1555.1 350.5 1557.8 350.5C1558.8 350.5 1559.8 351.2 1560.8 351.2C1561.8 351.2 1562.8 339.6 1563.8 339.4C1565.3 339.1 1566.7 339.2 1568.2 339C1569.7 338.7 1571.2 334.5 1572.7 332.7C1573.9 331.2 1575.2 328.6 1576.4 328.6C1578.1 328.6 1579.9 333 1581.6 333C1583.1 333 1584.5 330.1 1586 330.1C1587.7 330.1 1589.5 334.5 1591.2 334.5C1592.7 334.5 1594.2 332.3 1595.7 332.3C1598.2 332.3 1600.6 335.3 1603.1 335.3C1605.8 335.3 1608.6 334.8 1611.3 334.2C1613.5 333.7 1615.8 331.2 1618 331.2C1620 331.2 1621.9 333.4 1623.9 334.5" stroke="#00f" stroke-width="2.3" fill="none" stroke-linejoin="round" stroke-linecap="round"/>
<path d="M1211 378C1219.5 377.8 1228.1 377.3 1236.6 377.3C1247.7 377.3 1258.7 377.6 1269.8 377.6C1270.9 377.6 1272.1 374.3 1273.2 374.2C1295.1 372.7 1317 374 1338.9 372.5C1340.6 372.4 1342.3 368.2 1344 368.2C1346.3 368.2 1348.5 370.8 1350.8 370.8C1353.9 370.8 1356.9 370 1360 370C1366.3 370 1372.7 370 1379 370C1389 370 1398.9 369.9 1408.9 369.3C1410.7 369.2 1412.5 364.3 1414.3 364.3C1415.7 364.3 1417.1 365.6 1418.5 365.6C1424.2 365.6 1429.9 364.4 1435.6 364.3C1449.8 364 1464 364.3 1478.2 363.9C1479.9 363.9 1481.6 357.5 1483.3 357.5C1485 357.5 1486.7 360.1 1488.4 360.1C1490.7 360.1 1493 355 1495.3 355C1498.1 355 1501 356.6 1503.8 356.7C1509.5 357 1515.1 357.1 1520.8 357.1C1530.2 357.1 1539.5 356.8 1548.9 354.9C1550.3 354.6 1551.6 343.8 1553 343.8C1554.4 343.8 1555.7 345.3 1557.1 345.3C1559.1 345.3 1561 337.1 1563 337.1C1564.7 337.1 1566.5 341.2 1568.2 341.2C1569.7 341.2 1571.2 336.8 1572.7 336.8C1574.4 336.8 1576.2 341.6 1577.9 341.6C1580.1 341.6 1582.4 339.7 1584.6 339.7C1587.1 339.7 1589.5 339.7 1592 339.7C1595.7 339.7 1599.4 340.5 1603.1 340.5C1606.8 340.5 1610.6 339 1614.3 339C1617.3 339 1620.2 339 1623.2 339" stroke="#0ff" stroke-width="2.3" fill="none" stroke-linejoin="round" stroke-linecap="round"/>
<path d="M1211 378.9C1219.5 379.2 1228.1 379.5 1236.6 379.7C1247.7 379.9 1258.7 380.2 1269.8 380.2C1270.9 380.2 1272.1 377 1273.2 376.7C1276.6 375.9 1280.1 376 1283.5 375.5C1284.9 375.3 1286.3 374.6 1287.7 374.6C1304.8 374.6 1321.8 374.6 1338.9 374.6C1340.6 374.6 1342.3 369.5 1344 369.5C1345.1 369.5 1346.3 369.7 1347.4 369.9C1348.5 370.1 1349.7 372.1 1350.8 372.1C1351.5 372.1 1352.3 370.1 1353 370C1361.7 368.4 1370.3 368 1379 368C1389.3 368 1399.7 368.5 1410 368.5C1411.1 368.5 1412.3 362.6 1413.4 362.6C1415.4 362.6 1417.4 364.3 1419.4 364.3C1421.1 364.3 1422.8 359.6 1424.5 359.6C1426.2 359.6 1427.9 361.8 1429.6 361.8C1431.2 361.8 1432.7 359.6 1434.3 359.6C1436.1 359.6 1438 362.2 1439.8 362.2C1441.2 362.2 1442.7 360.5 1444.1 360.5C1445.8 360.5 1447.5 362.6 1449.2 362.6C1458.9 362.6 1468.5 362.5 1478.2 361.8C1479.6 361.7 1481.1 352.4 1482.5 352.4C1484.5 352.4 1486.4 357.1 1488.4 357.1C1490 357.1 1491.5 350.3 1493.1 350.3C1494.7 350.3 1496.2 355 1497.8 355C1499.2 355 1500.7 350.3 1502.1 350.3C1503.7 350.3 1505.2 353.7 1506.8 353.7C1508.4 353.7 1509.9 350.3 1511.5 350.3C1513.2 350.3 1514.9 352.4 1516.6 352.4C1520.9 352.4 1525.1 352 1529.4 352C1535.4 352 1541.4 352 1547.4 352C1548.3 352 1549.1 350.5 1550 349C1551.1 347 1552.3 335.6 1553.4 335.6C1554.9 335.6 1556.3 342.3 1557.8 342.3C1559.3 342.3 1560.8 329.3 1562.3 329.3C1564 329.3 1565.8 334.9 1567.5 334.9C1568.9 334.9 1570.2 328.2 1571.6 328.2C1573.2 328.2 1574.8 333.4 1576.4 333.4C1577.9 333.4 1579.3 329.3 1580.8 329.3C1582.3 329.3 1583.8 333.6 1585.3 334.2C1586.3 334.6 1587.3 334.9 1588.3 334.9C1590 334.9 1591.8 330.1 1593.5 330.1C1596.7 330.1 1599.9 332.7 1603.1 332.7C1604.8 332.7 1606.6 331.6 1608.3 331.6C1609.8 331.6 1611.3 333 1612.8 333C1614.8 333 1616.7 332.7 1618.7 332.7C1619.7 332.7 1620.7 333.7 1621.7 334.9C1622.4 335.7 1623.2 338.4 1623.9 340.1" stroke="#f0f" stroke-width="2.3" fill="none" stroke-linejoin="round" stroke-linecap="round"/>
<path d="M1237.4 66.1H1304.3" stroke="#000" stroke-width="2"/>
<text transform="translate(1310.9 76.5) scale(0.9609 1)">G-0</text>
<path d="M1237.4 102.2H1304.3" stroke="#000080" stroke-width="2"/>
<text transform="translate(1310.9 112.7) scale(0.9609 1)">G-1</text>
<path d="M1237.4 138.4H1304.3" stroke="#008000" stroke-width="2"/>
<text transform="translate(1310.9 148.8) scale(0.9609 1)">G-3</text>
<path d="M1237.4 174.5H1304.3" stroke="#f00" stroke-width="2"/>
<text transform="translate(1310.9 184.9) scale(0.9609 1)">G-5</text>
<path d="M1237.4 210.7H1304.3" stroke="#00f" stroke-width="2"/>
<text transform="translate(1310.9 221.1) scale(0.9609 1)">G-7</text>
<path d="M1237.4 246.8H1304.3" stroke="#0ff" stroke-width="2"/>
<text transform="translate(1310.9 257.2) scale(0.9609 1)">G-9</text>
<path d="M1237.4 283H1304.3" stroke="#f0f" stroke-width="2"/>
<text transform="translate(1310.9 293.4) scale(0.9609 1)">G-11</text>
<text transform="translate(1215.3 430.5) scale(0.9609 1)">30%</text>
<text transform="translate(1280.8 430.5) scale(0.9609 1)">40%</text>
<text transform="translate(1352.5 430.5) scale(0.9609 1)">50%</text>
<text transform="translate(1426.8 430.5) scale(0.9609 1)">60%</text>
<text transform="translate(1497.5 430.5) scale(0.9609 1)">70%</text>
<text transform="translate(1564.8 430.5) scale(0.9609 1)">80%</text>
<path d="M107.2 998.9v-7.3M107.2 585.6v7.3M169.3 998.9v-7.3M169.3 585.6v7.3M231.3 998.9v-7.3M231.3 585.6v7.3M293.4 998.9v-7.3M293.4 585.6v7.3M355.4 998.9v-7.3M355.4 585.6v7.3M417.5 998.9v-7.3M417.5 585.6v7.3M479.5 998.9v-7.3M479.5 585.6v7.3M138.2 998.9v-3.8M138.2 585.6v3.8M200.3 998.9v-3.8M200.3 585.6v3.8M262.3 998.9v-3.8M262.3 585.6v3.8M324.4 998.9v-3.8M324.4 585.6v3.8M386.4 998.9v-3.8M386.4 585.6v3.8M448.5 998.9v-3.8M448.5 585.6v3.8M510.6 998.9v-3.8M510.6 585.6v3.8M107.2 998.9h7.3M520.8 998.9h-7.3M107.2 916.2h7.3M520.8 916.2h-7.3M107.2 833.6h7.3M520.8 833.6h-7.3M107.2 750.9h7.3M520.8 750.9h-7.3M107.2 668.3h7.3M520.8 668.3h-7.3M107.2 585.6h7.3M520.8 585.6h-7.3M107.2 957.6h3.8M520.8 957.6h-3.8M107.2 874.9h3.8M520.8 874.9h-3.8M107.2 792.2h3.8M520.8 792.2h-3.8M107.2 709.6h3.8M520.8 709.6h-3.8M107.2 626.9h3.8M520.8 626.9h-3.8" stroke="#000" stroke-width="3.4" fill="none"/>
<rect x="107.2" y="585.6" width="413.6" height="413.3" fill="none" stroke="#000" stroke-width="3.4"/>
<text transform="translate(107.2 1030) scale(0.9609 1)" text-anchor="middle">0</text>
<text transform="translate(164.3 1030) scale(0.9609 1)" text-anchor="middle">10</text>
<text transform="translate(230.3 1030) scale(0.9609 1)" text-anchor="middle">20</text>
<text transform="translate(290.1 1030) scale(0.9609 1)" text-anchor="middle">30</text>
<text transform="translate(355.4 1030) scale(0.9609 1)" text-anchor="middle">40</text>
<text transform="translate(414.9 1030) scale(0.9609 1)" text-anchor="middle">50</text>
<text transform="translate(479 1030) scale(0.9609 1)" text-anchor="middle">60</text>
<text transform="translate(99.5 1007.6) scale(0.9609 1)" text-anchor="end">0.95</text>
<text transform="translate(99.5 924.9) scale(0.9609 1)" text-anchor="end">1.00</text>
<text transform="translate(99.5 842.3) scale(0.9609 1)" text-anchor="end">1.05</text>
<text transform="translate(99.5 759.6) scale(0.9609 1)" text-anchor="end">1.10</text>
<text transform="translate(99.5 677) scale(0.9609 1)" text-anchor="end">1.15</text>
<text transform="translate(99.5 594.3) scale(0.9609 1)" text-anchor="end">1.20</text>
<text x="236.7" y="1065.5" font-size="32.5">Time (min)</text>
<text transform="translate(22.1 822.7) rotate(-90) scale(0.9609 1)">R/R<tspan font-size="22.1" dy="9.3">0</tspan></text>
<path d="M269.6 622.1H337" stroke="#000" stroke-width="2"/>
<text transform="translate(344.1 631.8) scale(0.9609 1)">G-0 CYTOP</text>
<path d="M269.6 658.6H337" stroke="#f00" stroke-width="2"/>
<text transform="translate(344.1 668.3) scale(0.9609 1)">G-9 CYTOP</text>
<path d="M167.7 595.6V997" stroke="#000" stroke-width="3.0" stroke-linecap="round" stroke-dasharray="0 11.85" fill="none"/>
<path d="M235.4 592.9V997" stroke="#000" stroke-width="3.0" stroke-linecap="round" stroke-dasharray="0 11.85" fill="none"/>
<path d="M308.9 684.6V997" stroke="#000" stroke-width="3.0" stroke-linecap="round" stroke-dasharray="0 11.85" fill="none"/>
<path d="M376.8 687.1V997" stroke="#000" stroke-width="3.0" stroke-linecap="round" stroke-dasharray="0 11.85" fill="none"/>
<path d="M450.3 682.6V997" stroke="#000" stroke-width="3.0" stroke-linecap="round" stroke-dasharray="0 11.85" fill="none"/>
<path d="M107.5 916.2L108.4 915.3L109.6 915.5L110.8 913.8L112 913.9L113.2 913L114.6 911.4L116 911.1L116.7 911.4L117.3 913.2L118 913.7L118.7 912.4L119.4 911.6L120.1 911L121.5 909.2L122.8 908.8L124.2 909L125.6 910L126.9 909.6L128.3 909.7L129.7 911.1L131.3 908.8L132.9 909.6L134.5 908L135.3 906.6L136.2 905.3L137.1 904.5L137.9 904.2L139.3 902.9L140.7 903.4L142 903.3L143.4 902.7L144.8 903.8L146.1 903.7L147.5 904.5L148.8 905.6L149.9 905.3L150.9 903.7L151.9 902.3L153 901.7L153.7 902.8L154.4 903.9L155 906.2L155.7 907.4L156.4 907.9L157.6 907.9L158.8 907.1L160.1 907L161.3 906.1L162.5 904.6L163.7 904.9L164.8 902.5L165.9 902.1L167.1 901.8L168.2 899.8L169.4 899.5L170.8 899.2L172.1 900.9L173.5 901.7L174.9 901.9L176.2 903L177.6 902.6L178.3 902.1L179 900.8L179.7 899.7L180.4 898.3L181.7 898.7L182.9 898.5L184.2 897.3L185.5 897.3L186.8 895.9L188 896.7L189.3 896.3L190.1 898L190.9 898.9L191.7 899.1L192.5 900.4L193.3 902.1L194.1 902L195.5 902.3L196.8 901.2L198.2 900.6L199.5 899.9L200.9 900.7L202.3 899.5L203.6 899.7L205 900L206.4 900.9L207.8 899.4L209.1 900.1L210.5 900.3L211.9 900.9L213.2 900.8L214.6 900.9L215.2 898.6L215.8 897.7L216.4 896.4L216.9 896.1L217.5 895.1L218.1 892.5L218.7 891.3L220.1 890.9L221.5 890.3L222.8 890.3L224.2 889.9L225.6 888.8L226.3 889.4L227 891.3L227.6 892.4L228.3 893.9L229 895.7L229.7 896.3L230.5 894.9L231.2 893.9L232 892.9L232.7 890.7L233.5 891.1L234.2 889.7L235 888.7L235.7 887.5L236.5 885.6L237.9 885.3L239.2 884.5L240.6 885.1L242 883.8L243.4 883.5L244.7 883.5L246.1 883.1L247.5 882.9L248.9 881.8L250.2 881.2L251.6 880.9L253 880.3L254.6 880.5L256.2 879.7L257.8 881L258.1 881.9L258.5 882.4L258.8 884L259.1 885.5L259.5 886.9L259.8 887.8L260.8 890.1L261.7 891.3L262.7 891.3L263.6 892.3L264.6 892.6L265.9 892.1L267.2 892.1L268.5 891.5L269.8 892.1L271.1 890.4L272.4 889.7L273.7 890.9L275 889.7L276.3 888.6L277.6 890L279 889.7L280 889.7L280.9 889.5L281.9 888.4L282.8 887.1L283.8 885.4L284.8 884.6L285.7 883.3L286.7 883.4L287.6 882L288.6 881.5L289.5 879.7L290.4 878.4L291.4 878.5L292.3 877.7L293.2 876.5L294.1 875.4L295.2 874.5L296.4 873.4L297.6 871.6L298.7 871.2L299.9 870L301 868.5L301.5 869.7L302.1 871.4L302.6 872.6L303.2 874.6L303.7 876.3L304.3 874L304.8 873.6L305.4 872.3L306 870.9L306.5 868.4L307.1 866.8L308.2 867.9L309.4 869L310.5 870.2L311.6 870L312.7 869.5L313.8 868.4L314.9 866.8L316 866.2L317.3 866.6L318.7 865.4L320 866.6L321.2 866.4L322.4 865.6L323.5 865L324.7 863.9L325.9 862.7L327.2 864.6L328.5 864.5L329.8 866.1L331.1 867.1L331.4 864.8L331.8 863.6L332.1 863.3L332.4 861.6L332.7 859.3L333.1 858L333.4 856.8L334.9 858.6L336.3 859L337.8 858.3L338.9 858.6L340.1 858.1L341.2 856.6L342.3 855.2L343.6 855.5L344.9 854.6L346.3 854.3L347.6 855.9L348.9 855.2L350.2 854.8L351.6 855.4L352.9 854.4L354.2 855.1L355.3 854.1L356.4 852.1L357.5 851.4L358.6 850.6L359.7 849.6L360.8 849.4L361.4 850L362.1 851.6L362.7 852.3L363.3 854.9L364 855.2L364.6 856.6L366.1 856.3L367.6 856.3L369 854.8L370.5 855.2L370.7 853L371 851.7L371.2 850.2L371.5 847.9L371.7 847.3L372 845.4L372.2 843.7L372.5 843.7L372.7 841.2L372.8 840.5L372.8 839.6L372.9 838L373 836.3L373 835.3L373.1 834.1L373.2 833.2L373.2 830.7L373.3 830.2L373.4 828.3L373.4 827.1L373.5 826.7L374.9 825.1L376.4 824.1L377.7 823.7L379 823.2L380.3 821.6L381.6 821.2L382 822.4L382.4 823.8L382.7 825.5L383.1 826.5L383.5 828.1L383.9 829.4L384.2 831.6L384.6 832.6L384.8 831.6L385 830.4L385.2 827.9L385.4 827.1L385.6 826.5L385.8 825.1L386 822.5L386.2 821.2L386.4 820.5L386.6 818.5L386.8 817.5L388 816.7L389.2 817.1L390.4 816.8L391.6 816.4L392.8 814.5L394.1 815.1L395.4 814.6L396.8 813.2L398.1 814.1L399.4 813.9L400.7 812.1L402.1 813L403.4 811.6L404.7 811.4L405.1 813.7L405.5 814.7L405.9 814.9L406.4 816.8L406.8 818.3L407.2 819.3L407.6 820.5L408.7 821.6L409.9 823.2L411 822.9L412.1 824.8L412.3 823.2L412.4 821.1L412.6 820.3L412.8 819.4L412.9 817.9L413.1 815.7L413.3 816L413.5 814.3L413.6 813.2L413.8 810.3L414 809.2L414.1 807.4L414.3 807.4L415.6 805.9L417 805L418.3 805L419.7 805.2L421 804.5L421.3 804.9L421.6 806.1L421.8 808.9L422.1 809.6L422.4 811.3L422.6 811.6L422.9 812.9L423.2 815.4L424 813.8L424.7 811.9L425.5 812.3L426.2 810.5L427 809.6L428.4 809.5L429.9 812L431 809.8L432 810.3L433.1 808.7L434.2 807.7L435.3 807.2L436.3 807L437.4 805L438.1 803.4L438.9 802.8L439.6 801L440.3 799.5L441.6 798.8L442.8 797.9L444.1 797.4L445.4 796.9L446.7 796.1L447.9 796.2L449.2 794.6L450.4 794.4L451.6 793.2L452.8 792.9L454 791.7L455.2 791.6L455.6 789.8L456.1 789.8L456.5 788.1L457 786.2L457.4 785.4L458 785L458.7 782.3L459.4 782.3L460 780.4L460.6 779.3L461.3 778.7L462 776.7L462.6 775.7L463.9 775.1L465.2 774.7L466.5 772.6L467.8 772.6L468.1 771.1L468.4 769.7L468.7 768L469.1 766.6L469.4 764.8L469.7 763.7L470 762.3L470.8 762.4L471.5 760.4L472.2 759.1L473 757.9L474.1 760.7L475.2 762.3L475.8 760.6L476.5 758.7L477.1 757.3L477.8 756.1L478.4 755.2L479.1 753.4L479.7 752.6L480.9 753.3L482.2 755.5L483.4 756.6L484.2 754.6L485.1 752.9L485.9 753L486.8 750.7L487.6 749.6L488.5 747.8L489.3 747.3L490.6 748.5L491.8 749.5L493.1 750L494.1 749.6L495.1 747.7L496.1 747.3L497.1 746L498.2 745.6L499.2 744.1L500.2 743.1L501.2 742.6L502.7 742.3L504.2 742.8L505.7 742.5L507.2 742.8L508.1 741.5L509 740.6L509.8 739.9L510.7 737.9L511.6 736.8L512.9 737.4L514.3 735.3L515.6 735.7L517 735L518.3 733.3L519 733.2L519.8 731.1" stroke="#000" stroke-width="2.2" fill="none" stroke-linejoin="round" stroke-linecap="round"/>
<path d="M107.2 916.2L130 916.8L169 917.3L200 916.5L235 915L270 913.8L309 912.2L340 910.6L377 908.3L410 906.8L450 905L485 903.4L520.8 901.5" stroke="#f00" stroke-width="2.6" fill="none" stroke-linejoin="round" stroke-linecap="round"/>
<text transform="translate(113.4 969.5) scale(0.9609 1)">30%</text>
<text transform="translate(174.8 969.5) scale(0.9609 1)">40%</text>
<text transform="translate(245.7 969.5) scale(0.9609 1)">50%</text>
<text transform="translate(314 969.5) scale(0.9609 1)">60%</text>
<text transform="translate(385.1 969.5) scale(0.9609 1)">70%</text>
<text transform="translate(457.2 969.5) scale(0.9609 1)">80%</text>
<path d="M693.5 999.2v-7.3M693.5 585.7v7.3M762.4 999.2v-7.3M762.4 585.7v7.3M831.4 999.2v-7.3M831.4 585.7v7.3M900.3 999.2v-7.3M900.3 585.7v7.3M969.3 999.2v-7.3M969.3 585.7v7.3M1038.2 999.2v-7.3M1038.2 585.7v7.3M728 999.2v-3.8M728 585.7v3.8M796.9 999.2v-3.8M796.9 585.7v3.8M865.9 999.2v-3.8M865.9 585.7v3.8M934.8 999.2v-3.8M934.8 585.7v3.8M1003.8 999.2v-3.8M1003.8 585.7v3.8M1072.7 999.2v-3.8M1072.7 585.7v3.8M659 999.2h7.3M1072.7 999.2h-7.3M659 930.3h7.3M1072.7 930.3h-7.3M659 861.4h7.3M1072.7 861.4h-7.3M659 792.5h7.3M1072.7 792.5h-7.3M659 723.5h7.3M1072.7 723.5h-7.3M659 654.6h7.3M1072.7 654.6h-7.3M659 585.7h7.3M1072.7 585.7h-7.3M659 964.7h3.8M1072.7 964.7h-3.8M659 895.8h3.8M1072.7 895.8h-3.8M659 826.9h3.8M1072.7 826.9h-3.8M659 758h3.8M1072.7 758h-3.8M659 689.1h3.8M1072.7 689.1h-3.8M659 620.2h3.8M1072.7 620.2h-3.8" stroke="#000" stroke-width="3.4" fill="none"/>
<rect x="659" y="585.7" width="413.7" height="413.5" fill="none" stroke="#000" stroke-width="3.4"/>
<text transform="translate(693.5 1030.3) scale(0.9609 1)" text-anchor="middle">25</text>
<text transform="translate(762.4 1030.3) scale(0.9609 1)" text-anchor="middle">30</text>
<text transform="translate(831.4 1030.3) scale(0.9609 1)" text-anchor="middle">35</text>
<text transform="translate(900.3 1030.3) scale(0.9609 1)" text-anchor="middle">40</text>
<text transform="translate(969.3 1030.3) scale(0.9609 1)" text-anchor="middle">45</text>
<text transform="translate(1038.2 1030.3) scale(0.9609 1)" text-anchor="middle">50</text>
<text transform="translate(651.3 1007.9) scale(0.9609 1)" text-anchor="end">0.75</text>
<text transform="translate(651.3 939) scale(0.9609 1)" text-anchor="end">0.80</text>
<text transform="translate(651.3 870.1) scale(0.9609 1)" text-anchor="end">0.85</text>
<text transform="translate(651.3 801.2) scale(0.9609 1)" text-anchor="end">0.90</text>
<text transform="translate(651.3 732.2) scale(0.9609 1)" text-anchor="end">0.95</text>
<text transform="translate(651.3 663.3) scale(0.9609 1)" text-anchor="end">1.00</text>
<text transform="translate(651.3 594.4) scale(0.9609 1)" text-anchor="end">1.05</text>
<text x="729.7" y="1069.7" font-size="29.2">Temperature <tspan x="904.1">(</tspan><tspan x="913.2" y="1072.5" font-size="30">&#176;</tspan><tspan x="924.9" y="1069.7">C</tspan><tspan x="947.9">)</tspan></text>
<text transform="translate(576.2 822.7) rotate(-90) scale(0.9609 1)">R/R<tspan font-size="22.1" dy="9.3">0</tspan></text>
<path d="M700.2 658.2L754.4 687M769.1 695.1L823.6 725.7M838.3 733.8L892.5 762.7M907.5 770.4L961.3 796.5M976.6 803.6L1030 827.6" stroke="#000" stroke-width="2.2" fill="none" stroke-linecap="round"/><path d="M700.1 672.9L754.5 704.3M769.3 712.2L823.4 739M838.5 746.2L892.3 771.2M907.6 778.1L961.2 801.6M976.8 808L1029.8 828" stroke="#000" stroke-width="2.2" fill="none" stroke-linecap="round"/><path d="M699.8 659.2L754.8 696.5M769 705.5L823.7 737.8M838.2 746.3L892.6 777.8M907.2 786.1L961.6 816.6M976.3 824.6L1030.3 852.8" stroke="#000" stroke-width="2.2" fill="none" stroke-linecap="round"/><path d="M699.7 662.3L754.9 701.2M769.1 710.1L823.6 740.9M838.2 749.2L892.6 780.3M907.3 788.4L961.5 816.8M976.3 824.6L1030.3 852.8" stroke="#000" stroke-width="2.2" fill="none" stroke-linecap="round"/><path d="M699.6 659.4L755 698.7M768.9 708.1L823.8 743.1M838 752.1L892.8 786.8M907.2 795.5L961.6 827M976.2 835.3L1030.4 865.3" stroke="#000" stroke-width="2.2" fill="none" stroke-linecap="round"/><path d="M699.6 662.5L755 703M769 712.4L823.7 746.1M838 754.9L892.8 789.1M907.3 797.6L961.5 827.5M976.3 835.6L1030.3 865.4" stroke="#000" stroke-width="2.2" fill="none" stroke-linecap="round"/><path d="M699.5 659.6L755.1 701.7M768.9 711.3L823.8 745.5M837.7 755L893.1 796M907.1 805.4L961.7 838.9M976.2 847.5L1030.4 879.1" stroke="#000" stroke-width="2.2" fill="none" stroke-linecap="round"/><path d="M699.4 662.6L755.2 705.9M768.9 715.4L823.8 749.3M837.7 758.6L893.1 798.1M907.2 807.2L961.6 839.1M976.2 847.5L1030.4 879.1" stroke="#000" stroke-width="2.2" fill="none" stroke-linecap="round"/><path d="M699.4 659.7L755.2 704.4M768.9 714L823.8 747.9M837.3 757.8L893.5 805.7M907 815.6L961.8 849.5M976.1 858.2L1030.5 890.9" stroke="#000" stroke-width="2.2" fill="none" stroke-linecap="round"/><path d="M699.3 662.8L755.3 707.7M768.5 718L824.2 759.3M837.7 769.2L893.1 808.4M907.1 817.6L961.7 850.3M976.1 858.9L1030.5 890.9" stroke="#000" stroke-width="2.2" fill="none" stroke-linecap="round"/><path d="M699.1 659.6L755.5 709.2M768.3 720.1L824.4 765.9M837.6 776.3L893.2 818.8M906.7 828.8L962.1 868.9M975.9 878.4L1030.7 914.6" stroke="#000" stroke-width="2.2" fill="none" stroke-linecap="round"/><path d="M699.2 664.5L755.4 713M768.3 723.8L824.4 768.9M837.6 779.2L893.2 820.8M906.8 830.6L962 869M975.9 878.4L1030.7 914.6" stroke="#000" stroke-width="2.2" fill="none" stroke-linecap="round"/>
<rect x="687.6" y="649" width="10.4" height="10.4" fill="#000"/><rect x="756.6" y="685.8" width="10.4" height="10.4" fill="#000"/><rect x="825.7" y="724.6" width="10.4" height="10.4" fill="#000"/><rect x="894.7" y="761.5" width="10.4" height="10.4" fill="#000"/><rect x="963.7" y="795" width="10.4" height="10.4" fill="#000"/><rect x="1032.5" y="825.8" width="10.4" height="10.4" fill="#000"/><rect x="687.6" y="663.5" width="10.4" height="10.4" fill="#000"/><rect x="756.6" y="703.3" width="10.4" height="10.4" fill="#000"/><rect x="825.7" y="737.5" width="10.4" height="10.4" fill="#000"/><rect x="894.7" y="769.5" width="10.4" height="10.4" fill="#000"/><rect x="963.7" y="799.8" width="10.4" height="10.4" fill="#000"/><rect x="1032.5" y="825.8" width="10.4" height="10.4" fill="#000"/><rect x="687.6" y="649.3" width="10.4" height="10.4" fill="#f00"/><rect x="756.6" y="696" width="10.4" height="10.4" fill="#f00"/><rect x="825.7" y="736.9" width="10.4" height="10.4" fill="#f00"/><rect x="894.7" y="776.8" width="10.4" height="10.4" fill="#f00"/><rect x="963.7" y="815.5" width="10.4" height="10.4" fill="#f00"/><rect x="1032.5" y="851.5" width="10.4" height="10.4" fill="#f00"/><rect x="687.6" y="652.3" width="10.4" height="10.4" fill="#f00"/><rect x="756.6" y="700.8" width="10.4" height="10.4" fill="#f00"/><rect x="825.7" y="739.8" width="10.4" height="10.4" fill="#f00"/><rect x="894.7" y="779.3" width="10.4" height="10.4" fill="#f00"/><rect x="963.7" y="815.5" width="10.4" height="10.4" fill="#f00"/><rect x="1032.5" y="851.5" width="10.4" height="10.4" fill="#f00"/><rect x="687.6" y="649.3" width="10.4" height="10.4" fill="#00f"/><rect x="756.6" y="698.4" width="10.4" height="10.4" fill="#00f"/><rect x="825.7" y="742.4" width="10.4" height="10.4" fill="#00f"/><rect x="894.7" y="786.1" width="10.4" height="10.4" fill="#00f"/><rect x="963.7" y="826" width="10.4" height="10.4" fill="#00f"/><rect x="1032.5" y="864.2" width="10.4" height="10.4" fill="#00f"/><rect x="687.6" y="652.3" width="10.4" height="10.4" fill="#00f"/><rect x="756.6" y="702.8" width="10.4" height="10.4" fill="#00f"/><rect x="825.7" y="745.3" width="10.4" height="10.4" fill="#00f"/><rect x="894.7" y="788.3" width="10.4" height="10.4" fill="#00f"/><rect x="963.7" y="826.4" width="10.4" height="10.4" fill="#00f"/><rect x="1032.5" y="864.2" width="10.4" height="10.4" fill="#00f"/><rect x="687.6" y="649.3" width="10.4" height="10.4" fill="#0f0"/><rect x="756.6" y="701.6" width="10.4" height="10.4" fill="#0f0"/><rect x="825.7" y="744.8" width="10.4" height="10.4" fill="#0f0"/><rect x="894.7" y="795.8" width="10.4" height="10.4" fill="#0f0"/><rect x="963.7" y="838.1" width="10.4" height="10.4" fill="#0f0"/><rect x="1032.5" y="878.1" width="10.4" height="10.4" fill="#0f0"/><rect x="687.6" y="652.3" width="10.4" height="10.4" fill="#0f0"/><rect x="756.6" y="705.8" width="10.4" height="10.4" fill="#0f0"/><rect x="825.7" y="748.5" width="10.4" height="10.4" fill="#0f0"/><rect x="894.7" y="797.8" width="10.4" height="10.4" fill="#0f0"/><rect x="963.7" y="838.1" width="10.4" height="10.4" fill="#0f0"/><rect x="1032.5" y="878.1" width="10.4" height="10.4" fill="#0f0"/><rect x="687.6" y="649.3" width="10.4" height="10.4" fill="#0ff"/><rect x="756.6" y="704.4" width="10.4" height="10.4" fill="#0ff"/><rect x="825.7" y="747.1" width="10.4" height="10.4" fill="#0ff"/><rect x="894.7" y="806" width="10.4" height="10.4" fill="#0ff"/><rect x="963.7" y="848.7" width="10.4" height="10.4" fill="#0ff"/><rect x="1032.5" y="890" width="10.4" height="10.4" fill="#0ff"/><rect x="687.6" y="652.3" width="10.4" height="10.4" fill="#0ff"/><rect x="756.6" y="707.8" width="10.4" height="10.4" fill="#0ff"/><rect x="825.7" y="759.1" width="10.4" height="10.4" fill="#0ff"/><rect x="894.7" y="808.1" width="10.4" height="10.4" fill="#0ff"/><rect x="963.7" y="849.4" width="10.4" height="10.4" fill="#0ff"/><rect x="1032.5" y="890" width="10.4" height="10.4" fill="#0ff"/><rect x="687.6" y="648.8" width="10.4" height="10.4" fill="#f0f"/><rect x="756.6" y="709.6" width="10.4" height="10.4" fill="#f0f"/><rect x="825.7" y="766" width="10.4" height="10.4" fill="#f0f"/><rect x="894.7" y="818.7" width="10.4" height="10.4" fill="#f0f"/><rect x="963.7" y="868.6" width="10.4" height="10.4" fill="#f0f"/><rect x="1032.5" y="914" width="10.4" height="10.4" fill="#f0f"/><rect x="687.6" y="653.8" width="10.4" height="10.4" fill="#f0f"/><rect x="756.6" y="713.3" width="10.4" height="10.4" fill="#f0f"/><rect x="825.7" y="769" width="10.4" height="10.4" fill="#f0f"/><rect x="894.7" y="820.6" width="10.4" height="10.4" fill="#f0f"/><rect x="963.7" y="868.6" width="10.4" height="10.4" fill="#f0f"/><rect x="1032.5" y="914" width="10.4" height="10.4" fill="#f0f"/>
<path d="M949.1 607.9H1008.9" stroke="#000" stroke-width="2.2"/>
<rect x="973.5" y="602.7" width="10.4" height="10.4" fill="#000"/>
<text transform="translate(1015.3 616.9) scale(0.9609 1)" font-size="27.1">G-0</text>
<path d="M949.1 640.2H1008.9" stroke="#000" stroke-width="2.2"/>
<rect x="973.5" y="635" width="10.4" height="10.4" fill="#f00"/>
<text transform="translate(1015.3 649.2) scale(0.9609 1)" font-size="27.1">G-1</text>
<path d="M949.1 672.5H1008.9" stroke="#000" stroke-width="2.2"/>
<rect x="973.5" y="667.3" width="10.4" height="10.4" fill="#00f"/>
<text transform="translate(1015.3 681.5) scale(0.9609 1)" font-size="27.1">G-3</text>
<path d="M949.1 704.7H1008.9" stroke="#000" stroke-width="2.2"/>
<rect x="973.5" y="699.5" width="10.4" height="10.4" fill="#0f0"/>
<text transform="translate(1015.3 713.7) scale(0.9609 1)" font-size="27.1">G-5</text>
<path d="M949.1 737H1008.9" stroke="#000" stroke-width="2.2"/>
<rect x="973.5" y="731.8" width="10.4" height="10.4" fill="#0ff"/>
<text transform="translate(1015.3 746) scale(0.9609 1)" font-size="27.1">G-7</text>
<path d="M949.1 769.3H1008.9" stroke="#000" stroke-width="2.2"/>
<rect x="973.5" y="764.1" width="10.4" height="10.4" fill="#f0f"/>
<text transform="translate(1015.3 778.3) scale(0.9609 1)" font-size="27.1">G-9</text>
<path d="M1248.2 999.3v-7.3M1248.2 585.8v7.3M1323.4 999.3v-7.3M1323.4 585.8v7.3M1398.6 999.3v-7.3M1398.6 585.8v7.3M1473.9 999.3v-7.3M1473.9 585.8v7.3M1549.1 999.3v-7.3M1549.1 585.8v7.3M1624.3 999.3v-7.3M1624.3 585.8v7.3M1210.6 999.3v-3.8M1210.6 585.8v3.8M1285.8 999.3v-3.8M1285.8 585.8v3.8M1361 999.3v-3.8M1361 585.8v3.8M1436.3 999.3v-3.8M1436.3 585.8v3.8M1511.5 999.3v-3.8M1511.5 585.8v3.8M1586.7 999.3v-3.8M1586.7 585.8v3.8M1210.6 945.2h7.3M1624.3 945.2h-7.3M1210.6 765.5h7.3M1624.3 765.5h-7.3M1210.6 585.8h7.3M1624.3 585.8h-7.3M1210.6 985.1h3.8M1624.3 985.1h-3.8M1210.6 973h3.8M1624.3 973h-3.8M1210.6 962.6h3.8M1624.3 962.6h-3.8M1210.6 953.4h3.8M1624.3 953.4h-3.8M1210.6 891.1h3.8M1624.3 891.1h-3.8M1210.6 859.5h3.8M1624.3 859.5h-3.8M1210.6 837h3.8M1624.3 837h-3.8M1210.6 819.6h3.8M1624.3 819.6h-3.8M1210.6 805.4h3.8M1624.3 805.4h-3.8M1210.6 793.3h3.8M1624.3 793.3h-3.8M1210.6 782.9h3.8M1624.3 782.9h-3.8M1210.6 773.7h3.8M1624.3 773.7h-3.8M1210.6 711.4h3.8M1624.3 711.4h-3.8M1210.6 679.8h3.8M1624.3 679.8h-3.8M1210.6 657.3h3.8M1624.3 657.3h-3.8M1210.6 639.9h3.8M1624.3 639.9h-3.8M1210.6 625.7h3.8M1624.3 625.7h-3.8M1210.6 613.6h3.8M1624.3 613.6h-3.8M1210.6 603.2h3.8M1624.3 603.2h-3.8M1210.6 594h3.8M1624.3 594h-3.8" stroke="#000" stroke-width="3.4" fill="none"/>
<rect x="1210.6" y="585.8" width="413.7" height="413.5" fill="none" stroke="#000" stroke-width="3.4"/>
<text transform="translate(1248.2 1030.4) scale(0.9609 1)" text-anchor="middle">0</text>
<text transform="translate(1323.4 1030.4) scale(0.9609 1)" text-anchor="middle">2</text>
<text transform="translate(1398.6 1030.4) scale(0.9609 1)" text-anchor="middle">4</text>
<text transform="translate(1473.9 1030.4) scale(0.9609 1)" text-anchor="middle">6</text>
<text transform="translate(1549.1 1030.4) scale(0.9609 1)" text-anchor="middle">8</text>
<text transform="translate(1624.3 1030.4) scale(0.9609 1)" text-anchor="middle">10</text>
<text transform="translate(1202.9 953.9) scale(0.9609 1)" text-anchor="end">0.01</text>
<text transform="translate(1202.9 774.2) scale(0.9609 1)" text-anchor="end">0.1</text>
<text transform="translate(1202.9 594.5) scale(0.9609 1)" text-anchor="end">1</text>
<text transform="translate(1135.3 902.7) rotate(-90)" font-size="29">Conductivity (s/cm)</text>
<text transform="translate(1293.4 1061.7) scale(0.9609 1)">W<tspan font-size="20.5" dy="8.7">(GOPS)</tspan><tspan dy="-8.7"> /W </tspan><tspan font-size="20.5" dy="8.7">(PEDOT:PSS)</tspan></text>
<path d="M1248.1 639V679.3M1233.1 639h30M1233.1 679.3h30M1285.5 764.9V805.2M1270.5 764.9h30M1270.5 805.2h30M1360.4 836.6V891M1345.4 836.6h30M1345.4 891h30M1435.7 883.7V931M1420.7 883.7h30M1420.7 931h30M1510.9 899.5V945.3M1495.9 899.5h30M1495.9 945.3h30M1586 883.8V945.3M1571 883.8h30M1571 945.3h30" stroke="#000" stroke-width="1.9" fill="none"/>
<path d="M1250.6 664.6L1283 773.8M1291.5 788.2L1354.4 853.1M1367.8 863.6L1428.3 898.9M1444.1 904.9L1502.5 916.9M1519.4 917.4L1577.5 909.1" stroke="#000" stroke-width="2.0" fill="none" stroke-linecap="round"/>
<rect x="1242.9" y="651.2" width="10.4" height="10.4" fill="#000"/><rect x="1280.3" y="776.8" width="10.4" height="10.4" fill="#000"/><rect x="1355.2" y="854.1" width="10.4" height="10.4" fill="#000"/><rect x="1430.5" y="898" width="10.4" height="10.4" fill="#000"/><rect x="1505.7" y="913.4" width="10.4" height="10.4" fill="#000"/><rect x="1580.8" y="902.7" width="10.4" height="10.4" fill="#000"/>
<g transform="translate(99.3 249.2) scale(0.9609 1)" fill="#fff"><rect x="-41.33" y="-3.29" width="6.33" height="4.29"/><rect x="-32.19" y="-3.29" width="6.09" height="4.29"/></g><g transform="translate(99.3 180.3) scale(0.9609 1)" fill="#fff"><rect x="-41.33" y="-3.29" width="6.33" height="4.29"/><rect x="-32.19" y="-3.29" width="6.09" height="4.29"/></g><g transform="translate(99.3 180.3) scale(0.9609 1)" fill="#fff"><rect x="-15.74" y="-3.29" width="6.33" height="4.29"/><rect x="-6.60" y="-3.29" width="6.09" height="4.29"/></g><g transform="translate(99.3 111.3) scale(0.9609 1)" fill="#fff"><rect x="-41.33" y="-3.29" width="6.33" height="4.29"/><rect x="-32.19" y="-3.29" width="6.09" height="4.29"/></g><g transform="translate(99.3 42.4) scale(0.9609 1)" fill="#fff"><rect x="-41.33" y="-3.29" width="6.33" height="4.29"/><rect x="-32.19" y="-3.29" width="6.09" height="4.29"/></g><g transform="translate(651.6 180.3) scale(0.9609 1)" fill="#fff"><rect x="-41.33" y="-3.29" width="6.33" height="4.29"/><rect x="-32.19" y="-3.29" width="6.09" height="4.29"/></g><g transform="translate(651.6 42.4) scale(0.9609 1)" fill="#fff"><rect x="-41.33" y="-3.29" width="6.33" height="4.29"/><rect x="-32.19" y="-3.29" width="6.09" height="4.29"/></g><g transform="translate(651.6 42.4) scale(0.9609 1)" fill="#fff"><rect x="-15.74" y="-3.29" width="6.33" height="4.29"/><rect x="-6.60" y="-3.29" width="6.09" height="4.29"/></g><g transform="translate(1271.7 478.6) scale(0.9609 1)" fill="#fff"><rect x="-15.73" y="-3.29" width="6.33" height="4.29"/><rect x="-6.59" y="-3.29" width="6.09" height="4.29"/></g><g transform="translate(1203.3 387.1) scale(0.9609 1)" fill="#fff"><rect x="-41.33" y="-3.29" width="6.33" height="4.29"/><rect x="-32.19" y="-3.29" width="6.09" height="4.29"/></g><g transform="translate(1203.3 318.1) scale(0.9609 1)" fill="#fff"><rect x="-41.33" y="-3.29" width="6.33" height="4.29"/><rect x="-32.19" y="-3.29" width="6.09" height="4.29"/></g><g transform="translate(1203.3 318.1) scale(0.9609 1)" fill="#fff"><rect x="-15.74" y="-3.29" width="6.33" height="4.29"/><rect x="-6.60" y="-3.29" width="6.09" height="4.29"/></g><g transform="translate(1203.3 249.2) scale(0.9609 1)" fill="#fff"><rect x="-41.33" y="-3.29" width="6.33" height="4.29"/><rect x="-32.19" y="-3.29" width="6.09" height="4.29"/></g><g transform="translate(1203.3 180.3) scale(0.9609 1)" fill="#fff"><rect x="-41.33" y="-3.29" width="6.33" height="4.29"/><rect x="-32.19" y="-3.29" width="6.09" height="4.29"/></g><g transform="translate(1203.3 111.3) scale(0.9609 1)" fill="#fff"><rect x="-41.33" y="-3.29" width="6.33" height="4.29"/><rect x="-32.19" y="-3.29" width="6.09" height="4.29"/></g><g transform="translate(1203.3 42.4) scale(0.9609 1)" fill="#fff"><rect x="-41.33" y="-3.29" width="6.33" height="4.29"/><rect x="-32.19" y="-3.29" width="6.09" height="4.29"/></g><g transform="translate(1310.9 112.7) scale(0.9609 1)" fill="#fff"><rect x="35.42" y="-3.29" width="6.33" height="4.29"/><rect x="44.56" y="-3.29" width="6.09" height="4.29"/></g><g transform="translate(1310.9 293.4) scale(0.9609 1)" fill="#fff"><rect x="35.42" y="-3.29" width="6.33" height="4.29"/><rect x="44.56" y="-3.29" width="6.09" height="4.29"/></g><g transform="translate(1310.9 293.4) scale(0.9609 1)" fill="#fff"><rect x="52.48" y="-3.29" width="6.33" height="4.29"/><rect x="61.63" y="-3.29" width="6.09" height="4.29"/></g><g transform="translate(164.3 1030) scale(0.9609 1)" fill="#fff"><rect x="-15.73" y="-3.29" width="6.33" height="4.29"/><rect x="-6.59" y="-3.29" width="6.09" height="4.29"/></g><g transform="translate(99.5 924.9) scale(0.9609 1)" fill="#fff"><rect x="-58.40" y="-3.29" width="6.33" height="4.29"/><rect x="-49.25" y="-3.29" width="6.09" height="4.29"/></g><g transform="translate(99.5 842.3) scale(0.9609 1)" fill="#fff"><rect x="-58.40" y="-3.29" width="6.33" height="4.29"/><rect x="-49.25" y="-3.29" width="6.09" height="4.29"/></g><g transform="translate(99.5 759.6) scale(0.9609 1)" fill="#fff"><rect x="-58.40" y="-3.29" width="6.33" height="4.29"/><rect x="-49.25" y="-3.29" width="6.09" height="4.29"/></g><g transform="translate(99.5 759.6) scale(0.9609 1)" fill="#fff"><rect x="-32.81" y="-3.29" width="6.33" height="4.29"/><rect x="-23.66" y="-3.29" width="6.09" height="4.29"/></g><g transform="translate(99.5 677) scale(0.9609 1)" fill="#fff"><rect x="-58.40" y="-3.29" width="6.33" height="4.29"/><rect x="-49.25" y="-3.29" width="6.09" height="4.29"/></g><g transform="translate(99.5 677) scale(0.9609 1)" fill="#fff"><rect x="-32.81" y="-3.29" width="6.33" height="4.29"/><rect x="-23.66" y="-3.29" width="6.09" height="4.29"/></g><g transform="translate(99.5 594.3) scale(0.9609 1)" fill="#fff"><rect x="-58.40" y="-3.29" width="6.33" height="4.29"/><rect x="-49.25" y="-3.29" width="6.09" height="4.29"/></g><g transform="translate(651.3 663.3) scale(0.9609 1)" fill="#fff"><rect x="-58.40" y="-3.29" width="6.33" height="4.29"/><rect x="-49.25" y="-3.29" width="6.09" height="4.29"/></g><g transform="translate(651.3 594.4) scale(0.9609 1)" fill="#fff"><rect x="-58.40" y="-3.29" width="6.33" height="4.29"/><rect x="-49.25" y="-3.29" width="6.09" height="4.29"/></g><g transform="translate(1015.3 649.2) scale(0.9609 1)" fill="#fff"><rect x="31.15" y="-3.02" width="5.70" height="4.02"/><rect x="39.34" y="-3.02" width="5.49" height="4.02"/></g><g transform="translate(1624.3 1030.4) scale(0.9609 1)" fill="#fff"><rect x="-15.73" y="-3.29" width="6.33" height="4.29"/><rect x="-6.59" y="-3.29" width="6.09" height="4.29"/></g><g transform="translate(1202.9 953.9) scale(0.9609 1)" fill="#fff"><rect x="-15.74" y="-3.29" width="6.33" height="4.29"/><rect x="-6.60" y="-3.29" width="6.09" height="4.29"/></g><g transform="translate(1202.9 774.2) scale(0.9609 1)" fill="#fff"><rect x="-15.74" y="-3.29" width="6.33" height="4.29"/><rect x="-6.60" y="-3.29" width="6.09" height="4.29"/></g><g transform="translate(1202.9 594.5) scale(0.9609 1)" fill="#fff"><rect x="-15.74" y="-3.29" width="6.33" height="4.29"/><rect x="-6.60" y="-3.29" width="6.09" height="4.29"/></g></svg></body></html>
